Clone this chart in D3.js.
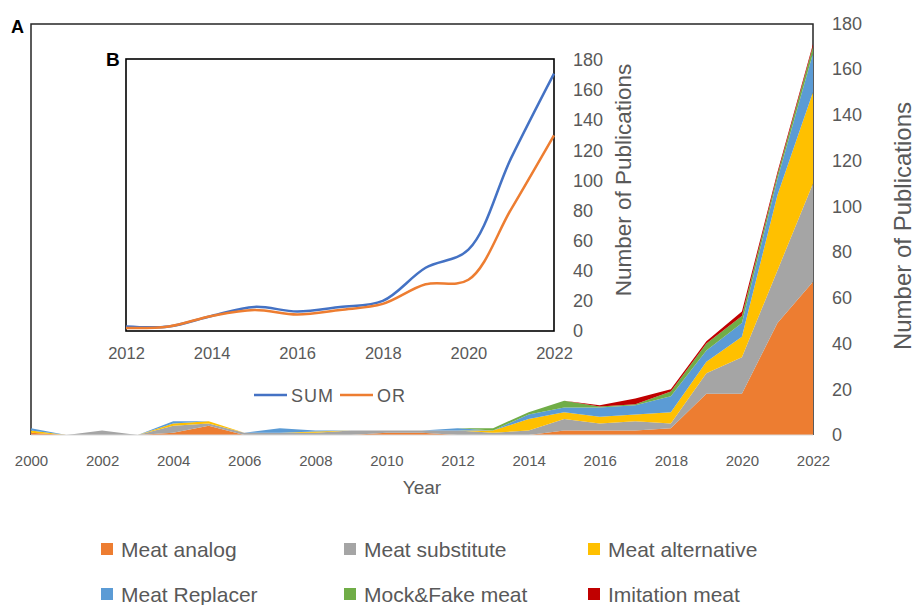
<!DOCTYPE html>
<html>
<head>
<meta charset="utf-8">
<script src="https://cdn.jsdelivr.net/npm/d3@7"></script>
<style>
    body { margin: 0; background: #ffffff; }
    text { font-family: "Liberation Sans", Arial, sans-serif; fill: #595959; }
</style>
</head>
<body>
<script>

//years for the main stacked chart (A)
var years = [2000, 2001, 2002, 2003, 2004, 2005, 2006, 2007, 2008, 2009, 2010, 2011,
    2012, 2013, 2014, 2015, 2016, 2017, 2018, 2019, 2020, 2021, 2022];

//publications per search term, one value per year
var meatAnalog =      [1, 0, 0, 0, 1, 4, 0, 0, 0,   0, 1, 1, 0, 0, 0, 2, 2,   2,   3, 18, 18, 49, 67];
var meatSubstitute =  [0, 0, 2, 0, 3, 1, 1, 1, 1,   2, 1, 1, 2, 1, 2, 5, 3,   4,   2,  9, 16, 23, 43];
var meatAlternative = [1, 0, 0, 0, 1, 1, 0, 0, 0.5, 0, 0, 0, 0, 1, 5, 3, 3,   3,   5,  5,  9, 33, 40];
var meatReplacer =    [1, 0, 0, 0, 1, 0, 0, 2, 0.5, 0, 0, 0, 1, 0, 2, 2, 4,   4,   7,  5,  6,  7, 17];
var mockFakeMeat =    [0, 0, 0, 0, 0, 0, 0, 0, 0,   0, 0, 0, 0, 1, 1, 3, 0.5, 0.5, 2,  3,  3,  2,  3];
var imitationMeat =   [0, 0, 0, 0, 0, 0, 0, 0, 0,   0, 0, 0, 0, 0, 0, 0, 0.5, 2.5, 1,  1,  2,  1,  1];

var seriesNames = ["Meat analog", "Meat substitute", "Meat alternative",
    "Meat Replacer", "Mock&Fake meat", "Imitation meat"];

//inset chart (B)
var insetYears = [2012, 2013, 2014, 2015, 2016, 2017, 2018, 2019, 2020, 2021, 2022];
var sumValues = [3, 3, 10, 16, 13, 16, 20, 42, 54, 115, 171];
var orValues =  [2, 3, 10, 14, 11, 14, 18, 31, 34, 81, 130];

//tick labels
var xTicks = [2000, 2002, 2004, 2006, 2008, 2010, 2012, 2014, 2016, 2018, 2020, 2022];
var yTicks = [0, 20, 40, 60, 80, 100, 120, 140, 160, 180];
var insetXTicks = [2012, 2014, 2016, 2018, 2020, 2022];

window.onload = drawChart;

function drawChart(){

    var width = 915,
        height = 605;

    var colors = ["#ED7D31", "#A5A5A5", "#FFC000", "#5B9BD5", "#70AD47", "#C00000"];

    var svg = d3.select("body")
        .append("svg")
        .attr("width", width)
        .attr("height", height);

    //main chart scales
    var x = d3.scaleLinear()
        .domain([2000, 2022])
        .range([31, 813]);

    var y = d3.scaleLinear()
        .domain([0, 180])
        .range([435, 23.5]);

    //build rows for the stack generator
    var rows = years.map(function(yr, i){
        return {
            year: yr,
            "Meat analog": meatAnalog[i],
            "Meat substitute": meatSubstitute[i],
            "Meat alternative": meatAlternative[i],
            "Meat Replacer": meatReplacer[i],
            "Mock&Fake meat": mockFakeMeat[i],
            "Imitation meat": imitationMeat[i]
        };
    });

    var stacked = d3.stack().keys(seriesNames)(rows);

    //frame around the plot area (top, left, right)
    svg.append("path")
        .attr("d", "M" + x(2000) + "," + y(0) + "V" + 24 + "H" + x(2022) + "V" + y(0))
        .attr("fill", "none")
        .attr("stroke", "#262626")
        .attr("stroke-width", 1.5);

    var area = d3.area()
        .x(function(d){ return x(d.data.year); })
        .y0(function(d){ return y(d[0]); })
        .y1(function(d){ return y(d[1]); });

    svg.selectAll(".layer")
        .data(stacked)
        .enter()
        .append("path")
        .attr("class", "layer")
        .attr("d", area)
        .attr("fill", function(d, i){ return colors[i]; });

    //baseline
    svg.append("line")
        .attr("x1", x(2000))
        .attr("x2", x(2022))
        .attr("y1", y(0))
        .attr("y2", y(0))
        .attr("stroke", "#d9d9d9")
        .attr("stroke-width", 1);

    //x axis
    var xAxis = svg.append("g")
        .attr("transform", "translate(0," + y(0) + ")")
        .call(d3.axisBottom(x).tickValues(xTicks).tickFormat(d3.format("d")).tickSize(0).tickPadding(20));
    xAxis.select(".domain").remove();
    xAxis.selectAll("text").style("font-size", "15px").attr("fill", "#595959");

    //right y axis
    var yAxis = svg.append("g")
        .attr("transform", "translate(" + x(2022) + ",0)")
        .call(d3.axisRight(y).tickValues(yTicks).tickSize(0).tickPadding(19));
    yAxis.select(".domain").remove();
    yAxis.selectAll("text").style("font-size", "18px").attr("fill", "#595959");

    svg.append("text")
        .attr("x", 422)
        .attr("y", 494)
        .attr("text-anchor", "middle")
        .style("font-size", "19px")
        .text("Year");

    svg.append("text")
        .attr("transform", "translate(911,226) rotate(-90)")
        .attr("text-anchor", "middle")
        .style("font-size", "24px")
        .text("Number of Publications");

    svg.append("text")
        .attr("x", 11)
        .attr("y", 33)
        .style("font-size", "18px")
        .style("font-weight", "bold")
        .style("fill", "#000")
        .text("A");

    //legend for main chart
    var legend = svg.selectAll(".legendItem")
        .data(seriesNames)
        .enter()
        .append("g")
        .attr("class", "legendItem")
        .attr("transform", function(d, i){
            var cols = [101, 344, 588];
            var rowsY = [543, 588];
            return "translate(" + cols[i % 3] + "," + rowsY[Math.floor(i / 3)] + ")";
        });

    legend.append("rect")
        .attr("width", 12)
        .attr("height", 12)
        .attr("fill", function(d, i){ return colors[i]; });

    legend.append("text")
        .attr("x", 20)
        .attr("y", 13.5)
        .style("font-size", "21px")
        .text(function(d){ return d; });

    //inset chart B
    var ix = d3.scaleLinear()
        .domain([2012, 2022])
        .range([126, 554]);

    var iy = d3.scaleLinear()
        .domain([0, 180])
        .range([331, 60]);

    svg.append("rect")
        .attr("x", 126)
        .attr("y", 59)
        .attr("width", 428)
        .attr("height", 272)
        .attr("fill", "#ffffff")
        .attr("stroke", "#000")
        .attr("stroke-width", 1.6);

    var line = d3.line()
        .x(function(d){ return ix(d[0]); })
        .y(function(d){ return iy(d[1]); })
        .curve(d3.curveCatmullRom.alpha(0.5));

    var insetLines = [
        { name: "SUM", color: "#4472C4", values: d3.zip(insetYears, sumValues) },
        { name: "OR", color: "#ED7D31", values: d3.zip(insetYears, orValues) }
    ];

    svg.selectAll(".insetLine")
        .data(insetLines)
        .enter()
        .append("path")
        .attr("class", "insetLine")
        .attr("d", function(d){ return line(d.values); })
        .attr("fill", "none")
        .attr("stroke", function(d){ return d.color; })
        .attr("stroke-width", 2.5);

    var ixAxis = svg.append("g")
        .attr("transform", "translate(0,331)")
        .call(d3.axisBottom(ix).tickValues(insetXTicks).tickFormat(d3.format("d")).tickSize(0).tickPadding(16));
    ixAxis.select(".domain").remove();
    ixAxis.selectAll("text").style("font-size", "16.5px").attr("fill", "#595959");

    var iyAxis = svg.append("g")
        .attr("transform", "translate(554,0)")
        .call(d3.axisRight(iy).tickValues(yTicks).tickSize(0).tickPadding(19));
    iyAxis.select(".domain").remove();
    iyAxis.selectAll("text").style("font-size", "18px").attr("fill", "#595959");

    svg.append("text")
        .attr("transform", "translate(631,180) rotate(-90)")
        .attr("text-anchor", "middle")
        .style("font-size", "22.5px")
        .text("Number of Publications");

    svg.append("text")
        .attr("x", 106)
        .attr("y", 66)
        .style("font-size", "19px")
        .style("font-weight", "bold")
        .style("fill", "#000")
        .text("B");

    //inset legend
    var insetLegend = svg.selectAll(".insetLegend")
        .data(insetLines)
        .enter()
        .append("g")
        .attr("class", "insetLegend")
        .attr("transform", function(d, i){
            return "translate(" + (254 + i * 86) + ",395)";
        });

    insetLegend.append("line")
        .attr("x1", 0)
        .attr("x2", 33)
        .attr("stroke", function(d){ return d.color; })
        .attr("stroke-width", 2.5);

    insetLegend.append("text")
        .attr("x", 37)
        .attr("y", 6.5)
        .style("font-size", "18px")
        .style("letter-spacing", "1px")
        .text(function(d){ return d.name; });
};

</script>
</body>
</html>
